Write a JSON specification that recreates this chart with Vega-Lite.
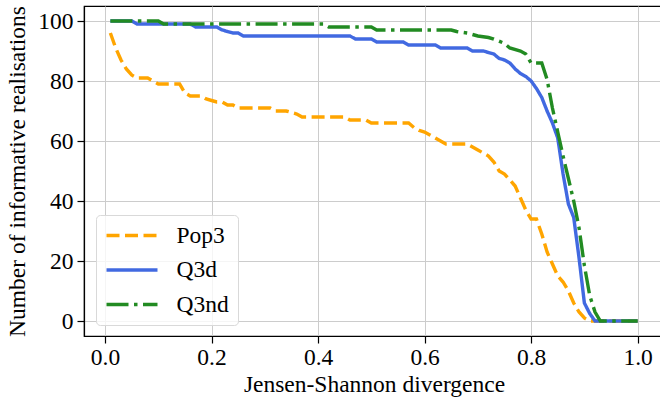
{
  "$schema": "https://vega.github.io/schema/vega-lite/v6.json",
  "autosize": {"type": "none"},
  "width": 580,
  "height": 330,
  "padding": {"left": 84, "top": 6, "right": 0, "bottom": 64},
  "background": "white",
  "config": {
    "font": "Liberation Serif",
    "view": {"stroke": "black", "strokeWidth": 1.2},
    "axis": {
      "labelFont": "Liberation Serif",
      "titleFont": "Liberation Serif",
      "labelFontSize": 23.5,
      "titleFontSize": 23.5,
      "titleFontWeight": "normal",
      "labelColor": "black",
      "titleColor": "black",
      "domainColor": "black",
      "domainWidth": 1.2,
      "tickColor": "black",
      "tickWidth": 1.2,
      "tickSize": 7,
      "gridColor": "#cccccc",
      "gridWidth": 1
    },
    "legend": {
      "labelFont": "Liberation Serif",
      "labelFontSize": 23.5,
      "labelColor": "black"
    }
  },
  "data": {
    "values": [
      {"x": 0.01, "y": 96, "series": "Pop3"},
      {"x": 0.02, "y": 91, "series": "Pop3"},
      {"x": 0.03, "y": 87, "series": "Pop3"},
      {"x": 0.04, "y": 84, "series": "Pop3"},
      {"x": 0.05, "y": 82, "series": "Pop3"},
      {"x": 0.06, "y": 81, "series": "Pop3"},
      {"x": 0.08, "y": 81, "series": "Pop3"},
      {"x": 0.09, "y": 80, "series": "Pop3"},
      {"x": 0.10, "y": 79, "series": "Pop3"},
      {"x": 0.14, "y": 79, "series": "Pop3"},
      {"x": 0.15, "y": 76, "series": "Pop3"},
      {"x": 0.16, "y": 75, "series": "Pop3"},
      {"x": 0.18, "y": 75, "series": "Pop3"},
      {"x": 0.19, "y": 74, "series": "Pop3"},
      {"x": 0.20, "y": 73.5, "series": "Pop3"},
      {"x": 0.21, "y": 73, "series": "Pop3"},
      {"x": 0.22, "y": 73, "series": "Pop3"},
      {"x": 0.23, "y": 72, "series": "Pop3"},
      {"x": 0.24, "y": 72, "series": "Pop3"},
      {"x": 0.25, "y": 71, "series": "Pop3"},
      {"x": 0.31, "y": 71, "series": "Pop3"},
      {"x": 0.32, "y": 70, "series": "Pop3"},
      {"x": 0.34, "y": 70, "series": "Pop3"},
      {"x": 0.35, "y": 69.5, "series": "Pop3"},
      {"x": 0.36, "y": 69, "series": "Pop3"},
      {"x": 0.37, "y": 68, "series": "Pop3"},
      {"x": 0.45, "y": 68, "series": "Pop3"},
      {"x": 0.46, "y": 67, "series": "Pop3"},
      {"x": 0.49, "y": 67, "series": "Pop3"},
      {"x": 0.50, "y": 66, "series": "Pop3"},
      {"x": 0.57, "y": 66, "series": "Pop3"},
      {"x": 0.58, "y": 64.5, "series": "Pop3"},
      {"x": 0.59, "y": 63.5, "series": "Pop3"},
      {"x": 0.60, "y": 63, "series": "Pop3"},
      {"x": 0.61, "y": 62, "series": "Pop3"},
      {"x": 0.62, "y": 61, "series": "Pop3"},
      {"x": 0.63, "y": 60, "series": "Pop3"},
      {"x": 0.64, "y": 59, "series": "Pop3"},
      {"x": 0.68, "y": 59, "series": "Pop3"},
      {"x": 0.69, "y": 58, "series": "Pop3"},
      {"x": 0.70, "y": 57, "series": "Pop3"},
      {"x": 0.71, "y": 56, "series": "Pop3"},
      {"x": 0.72, "y": 55, "series": "Pop3"},
      {"x": 0.73, "y": 53, "series": "Pop3"},
      {"x": 0.74, "y": 50, "series": "Pop3"},
      {"x": 0.75, "y": 49, "series": "Pop3"},
      {"x": 0.76, "y": 47, "series": "Pop3"},
      {"x": 0.77, "y": 45, "series": "Pop3"},
      {"x": 0.78, "y": 41, "series": "Pop3"},
      {"x": 0.79, "y": 37, "series": "Pop3"},
      {"x": 0.80, "y": 34, "series": "Pop3"},
      {"x": 0.81, "y": 34, "series": "Pop3"},
      {"x": 0.82, "y": 29, "series": "Pop3"},
      {"x": 0.83, "y": 23, "series": "Pop3"},
      {"x": 0.84, "y": 19, "series": "Pop3"},
      {"x": 0.85, "y": 15, "series": "Pop3"},
      {"x": 0.86, "y": 13, "series": "Pop3"},
      {"x": 0.87, "y": 10, "series": "Pop3"},
      {"x": 0.88, "y": 6, "series": "Pop3"},
      {"x": 0.89, "y": 3, "series": "Pop3"},
      {"x": 0.90, "y": 1, "series": "Pop3"},
      {"x": 0.91, "y": 0, "series": "Pop3"},
      {"x": 1.0, "y": 0, "series": "Pop3"},

      {"x": 0.01, "y": 100, "series": "Q3d"},
      {"x": 0.05, "y": 100, "series": "Q3d"},
      {"x": 0.06, "y": 99, "series": "Q3d"},
      {"x": 0.16, "y": 99, "series": "Q3d"},
      {"x": 0.17, "y": 98, "series": "Q3d"},
      {"x": 0.21, "y": 98, "series": "Q3d"},
      {"x": 0.22, "y": 97, "series": "Q3d"},
      {"x": 0.23, "y": 96.5, "series": "Q3d"},
      {"x": 0.24, "y": 96, "series": "Q3d"},
      {"x": 0.25, "y": 96, "series": "Q3d"},
      {"x": 0.26, "y": 95, "series": "Q3d"},
      {"x": 0.46, "y": 95, "series": "Q3d"},
      {"x": 0.47, "y": 94, "series": "Q3d"},
      {"x": 0.50, "y": 94, "series": "Q3d"},
      {"x": 0.51, "y": 93, "series": "Q3d"},
      {"x": 0.56, "y": 93, "series": "Q3d"},
      {"x": 0.57, "y": 92, "series": "Q3d"},
      {"x": 0.62, "y": 92, "series": "Q3d"},
      {"x": 0.63, "y": 91, "series": "Q3d"},
      {"x": 0.68, "y": 91, "series": "Q3d"},
      {"x": 0.69, "y": 90, "series": "Q3d"},
      {"x": 0.71, "y": 90, "series": "Q3d"},
      {"x": 0.72, "y": 89.5, "series": "Q3d"},
      {"x": 0.73, "y": 89, "series": "Q3d"},
      {"x": 0.74, "y": 87.5, "series": "Q3d"},
      {"x": 0.75, "y": 87, "series": "Q3d"},
      {"x": 0.76, "y": 86, "series": "Q3d"},
      {"x": 0.77, "y": 84, "series": "Q3d"},
      {"x": 0.78, "y": 82.5, "series": "Q3d"},
      {"x": 0.79, "y": 81.5, "series": "Q3d"},
      {"x": 0.80, "y": 80, "series": "Q3d"},
      {"x": 0.81, "y": 77.5, "series": "Q3d"},
      {"x": 0.82, "y": 74.5, "series": "Q3d"},
      {"x": 0.83, "y": 70, "series": "Q3d"},
      {"x": 0.84, "y": 66, "series": "Q3d"},
      {"x": 0.85, "y": 61, "series": "Q3d"},
      {"x": 0.86, "y": 49, "series": "Q3d"},
      {"x": 0.87, "y": 39, "series": "Q3d"},
      {"x": 0.88, "y": 34.5, "series": "Q3d"},
      {"x": 0.89, "y": 21, "series": "Q3d"},
      {"x": 0.90, "y": 6, "series": "Q3d"},
      {"x": 0.91, "y": 2.5, "series": "Q3d"},
      {"x": 0.92, "y": 0, "series": "Q3d"},
      {"x": 1.0, "y": 0, "series": "Q3d"},

      {"x": 0.01, "y": 100, "series": "Q3nd"},
      {"x": 0.10, "y": 100, "series": "Q3nd"},
      {"x": 0.11, "y": 99, "series": "Q3nd"},
      {"x": 0.41, "y": 99, "series": "Q3nd"},
      {"x": 0.42, "y": 98, "series": "Q3nd"},
      {"x": 0.50, "y": 98, "series": "Q3nd"},
      {"x": 0.51, "y": 97, "series": "Q3nd"},
      {"x": 0.65, "y": 97, "series": "Q3nd"},
      {"x": 0.66, "y": 96.5, "series": "Q3nd"},
      {"x": 0.68, "y": 96, "series": "Q3nd"},
      {"x": 0.69, "y": 95.5, "series": "Q3nd"},
      {"x": 0.70, "y": 95, "series": "Q3nd"},
      {"x": 0.72, "y": 94.5, "series": "Q3nd"},
      {"x": 0.73, "y": 94, "series": "Q3nd"},
      {"x": 0.75, "y": 92.5, "series": "Q3nd"},
      {"x": 0.76, "y": 91, "series": "Q3nd"},
      {"x": 0.78, "y": 90, "series": "Q3nd"},
      {"x": 0.79, "y": 89, "series": "Q3nd"},
      {"x": 0.80, "y": 86, "series": "Q3nd"},
      {"x": 0.82, "y": 86, "series": "Q3nd"},
      {"x": 0.83, "y": 80.5, "series": "Q3nd"},
      {"x": 0.84, "y": 71, "series": "Q3nd"},
      {"x": 0.85, "y": 63, "series": "Q3nd"},
      {"x": 0.86, "y": 55, "series": "Q3nd"},
      {"x": 0.87, "y": 47.5, "series": "Q3nd"},
      {"x": 0.88, "y": 40, "series": "Q3nd"},
      {"x": 0.89, "y": 31, "series": "Q3nd"},
      {"x": 0.90, "y": 18.5, "series": "Q3nd"},
      {"x": 0.91, "y": 8.5, "series": "Q3nd"},
      {"x": 0.92, "y": 3, "series": "Q3nd"},
      {"x": 0.93, "y": 0, "series": "Q3nd"},
      {"x": 1.0, "y": 0, "series": "Q3nd"}
    ]
  },
  "mark": {"type": "line", "strokeWidth": 3.4, "clip": true},
  "encoding": {
    "x": {
      "field": "x", "type": "quantitative",
      "scale": {"domain": [-0.0395, 1.0495], "nice": false, "zero": false},
      "axis": {"values": [0, 0.2, 0.4, 0.6, 0.8, 1.0], "format": ".1f", "title": "Jensen-Shannon divergence", "labelPadding": 2, "titlePadding": 4}
    },
    "y": {
      "field": "y", "type": "quantitative",
      "scale": {"domain": [-5, 105], "nice": false, "zero": false},
      "axis": {"values": [0, 20, 40, 60, 80, 100], "title": "Number of informative realisations", "labelPadding": 4, "titlePadding": 8}
    },
    "color": {
      "field": "series", "type": "nominal",
      "scale": {"domain": ["Pop3", "Q3d", "Q3nd"], "range": ["#FFA500", "#4169E1", "#228B22"]},
      "legend": {
        "title": null,
        "orient": "none",
        "legendX": 12,
        "legendY": 209,
        "symbolType": "stroke",
        "symbolSize": 2600,
        "symbolStrokeWidth": 3.4,
        "clipHeight": 24,
        "labelOffset": 17,
        "rowPadding": 10.5,
        "padding": 8.5,
        "cornerRadius": 4,
        "strokeColor": "#d9d9d9",
        "fillColor": "rgba(255,255,255,0.8)"
      }
    },
    "strokeDash": {
      "field": "series", "type": "nominal",
      "scale": {"domain": ["Pop3", "Q3d", "Q3nd"], "range": [[13, 5.5], [1, 0], [22, 5.5, 3.5, 5.5]]},
      "legend": null
    }
  }
}
